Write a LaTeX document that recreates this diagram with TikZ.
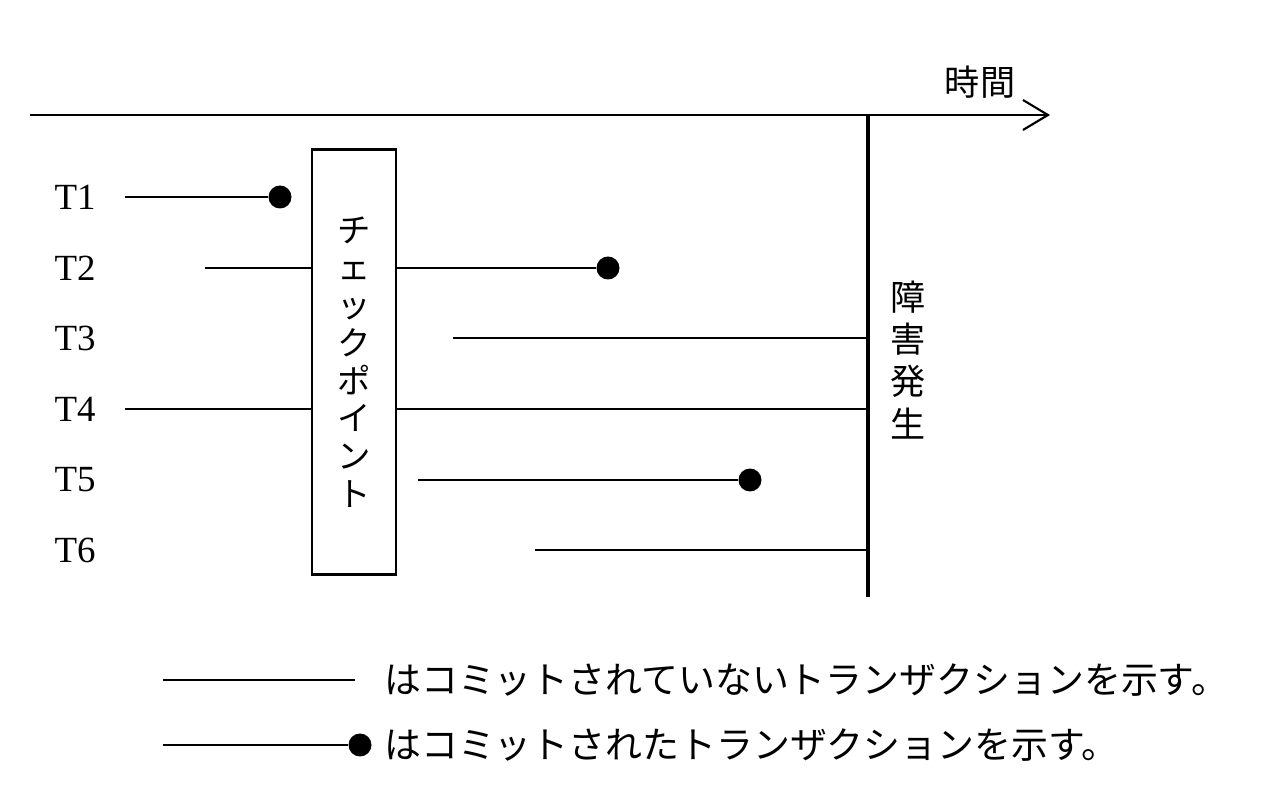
\documentclass[tikz,border=0pt]{standalone}
\usepackage{fontspec}
\newfontfamily\jp{Noto Sans CJK JP}
\setmainfont{Liberation Serif}
\usetikzlibrary{calc,arrows.meta}
\begin{document}
\begin{tikzpicture}[x=0.02cm, y=-0.02cm]
\tikzstyle{tline}=[line width=1.2pt]
\tikzstyle{dot}=[circle, fill, inner sep=0pt, minimum size=0.46cm]
\tikzstyle{tlabel}=[font=\fontsize{21}{22}\selectfont]
\tikzstyle{jtext}=[font=\jp\fontsize{21}{24}\selectfont]
\useasboundingbox (0,0) rectangle (1262,800);

%time axis
\coordinate (t0) at (30,115);
\coordinate (t1) at (1050,115);
\draw[tline,-{Straight Barb[length=5mm,width=6mm]}] (t0) -- (t1);
\node[jtext, font=\jp\fontsize{20}{24}\selectfont] (time) at (980,82) {時間};

%failure
\coordinate (f0) at (868,115);
\coordinate (f1) at (868,597);
\draw[line width=2.4pt] (f0) -- (f1);
\node[jtext, align=center, font=\jp\fontsize{20}{24}\selectfont] (fail) at (908,360) {障\\害\\発\\生};

%checkpoint
\node[draw, tline, minimum width=1.68cm, minimum height=8.5cm, jtext, align=center,
  font=\jp\fontsize{19}{21.5}\selectfont] (cp) at (354,362) {チ\\ェ\\ッ\\ク\\ポ\\イ\\ン\\ト};

%transactions
\foreach \i/\y in {1/197,2/268,3/338,4/409,5/480,6/550}
  \node[tlabel] (T\i) at (75,\y) {T\i};

\node[dot] (e1) at (280,197) {};
\draw[tline] (125,197) -- (e1);
\draw[tline] (205,268) -- (312,268);
\node[dot] (e2) at (608,268) {};
\draw[tline] (396,268) -- (e2);
\draw[tline] (453,338) -- (868,338);
\draw[tline] (125,409) -- (312,409);
\draw[tline] (396,409) -- (868,409);
\node[dot] (e5) at (750,480) {};
\draw[tline] (418,480) -- (e5);
\draw[tline] (535,550) -- (868,550);

%legend
\draw[tline] (163,680) -- (355,680);
\node[jtext, anchor=west] (lg1) at (378,680) {はコミットされていないトランザクションを示す。};
\node[dot] (ld) at (360,745) {};
\draw[tline] (163,745) -- (ld);
\node[jtext, anchor=west] (lg2) at (378,745) {はコミットされたトランザクションを示す。};
\end{tikzpicture}
\end{document}
